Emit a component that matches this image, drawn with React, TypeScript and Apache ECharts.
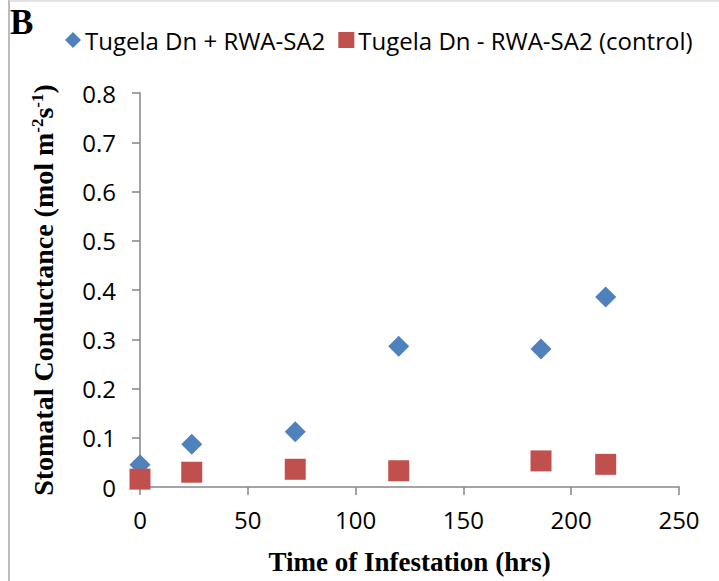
import React, { useEffect, useRef } from "react";
import * as echarts from "echarts";

const seriesNames = ["Tugela Dn + RWA-SA2", "Tugela Dn - RWA-SA2 (control)"];
const hours = [0, 24, 72, 120, 186, 216];
const infested = [0.045, 0.087, 0.112, 0.286, 0.28, 0.386];
const control = [0.016, 0.03, 0.036, 0.033, 0.053, 0.046];
const xTicks = [0, 50, 100, 150, 200, 250];
const yTicks = [0, 0.1, 0.2, 0.3, 0.4, 0.5, 0.6, 0.7, 0.8];

const SANS = "'Open Sans', sans-serif";
const SERIF = "'Liberation Serif', 'Times New Roman', serif";

export default function App() {
  const ref = useRef<HTMLDivElement>(null);
  useEffect(() => {
    if (!ref.current) return;
    const chart = echarts.init(ref.current, null, { renderer: "svg" });
    const axisColor = "#868686";
    chart.setOption({
      animation: false,
      backgroundColor: "#ffffff",
      graphic: [
        { type: "line", shape: { x1: 9, y1: 0, x2: 9, y2: 581 }, style: { stroke: "#a6a6a6", lineWidth: 1.5 } },
        { type: "line", shape: { x1: 9, y1: 1, x2: 719, y2: 1 }, style: { stroke: "#d9d9d9", lineWidth: 1.5 } },
        {
          type: "text",
          left: 10,
          top: 5,
          style: { text: "B", font: `bold 35px ${SERIF}`, fill: "#000" },
        },
      ],
      legend: {
        left: 60,
        top: 23,
        itemWidth: 16,
        itemHeight: 16,
        itemGap: 13,
        textStyle: { fontFamily: SANS, fontSize: 24, color: "#000", padding: [0, 0, 0, -1] },
        data: [
          { name: seriesNames[0], icon: "diamond" },
          { name: seriesNames[1], icon: "rect" },
        ],
      },
      grid: { left: 140, right: 40, top: 93, bottom: 94 },
      xAxis: {
        type: "value",
        min: xTicks[0],
        max: xTicks[xTicks.length - 1],
        interval: 50,
        name: "Time of Infestation (hrs)",
        nameLocation: "middle",
        nameGap: 61,
        nameTextStyle: { fontFamily: SERIF, fontWeight: "bold", fontSize: 27, color: "#000" },
        axisLine: { show: true, lineStyle: { color: axisColor, width: 1.5 } },
        axisTick: { show: true, length: 8, inside: false, lineStyle: { color: axisColor, width: 1.5 } },
        axisLabel: { fontFamily: SANS, fontSize: 24, color: "#000", margin: 20 },
        splitLine: { show: false },
      },
      yAxis: {
        type: "value",
        min: yTicks[0],
        max: yTicks[yTicks.length - 1],
        interval: 0.1,
        name: "Stomatal Conductance (mol m{sup|-2}s{sup|-1})",
        nameLocation: "middle",
        nameRotate: 90,
        nameGap: 83,
        nameTextStyle: {
          fontFamily: SERIF,
          fontWeight: "bold",
          fontSize: 28,
          color: "#000",
          rich: {
            sup: { fontFamily: SERIF, fontWeight: "bold", fontSize: 17, color: "#000", verticalAlign: "top" },
          },
        },
        axisLine: { show: true, lineStyle: { color: axisColor, width: 1.5 } },
        axisTick: { show: true, length: 8, lineStyle: { color: axisColor, width: 1.5 } },
        axisLabel: {
          fontFamily: SANS,
          fontSize: 24,
          color: "#000",
          margin: 24,
          formatter: (v: number) => (v === 0 ? "0" : v.toFixed(1)),
        },
        splitLine: { show: false },
      },
      series: [
        {
          name: seriesNames[0],
          type: "scatter",
          symbol: "diamond",
          symbolSize: 21,
          itemStyle: { color: "#4f81bd", opacity: 1 },
          data: hours.map((h, i) => [h, infested[i]]),
          z: 2,
        },
        {
          name: seriesNames[1],
          type: "scatter",
          symbol: "rect",
          symbolSize: 21,
          itemStyle: { color: "#c0504d", opacity: 1 },
          data: hours.map((h, i) => [h, control[i]]),
          z: 3,
        },
      ],
    });
    return () => chart.dispose();
  }, []);
  return <div ref={ref} style={{ position: "fixed", left: 0, top: 0, width: 719, height: 581 }} />;
}
